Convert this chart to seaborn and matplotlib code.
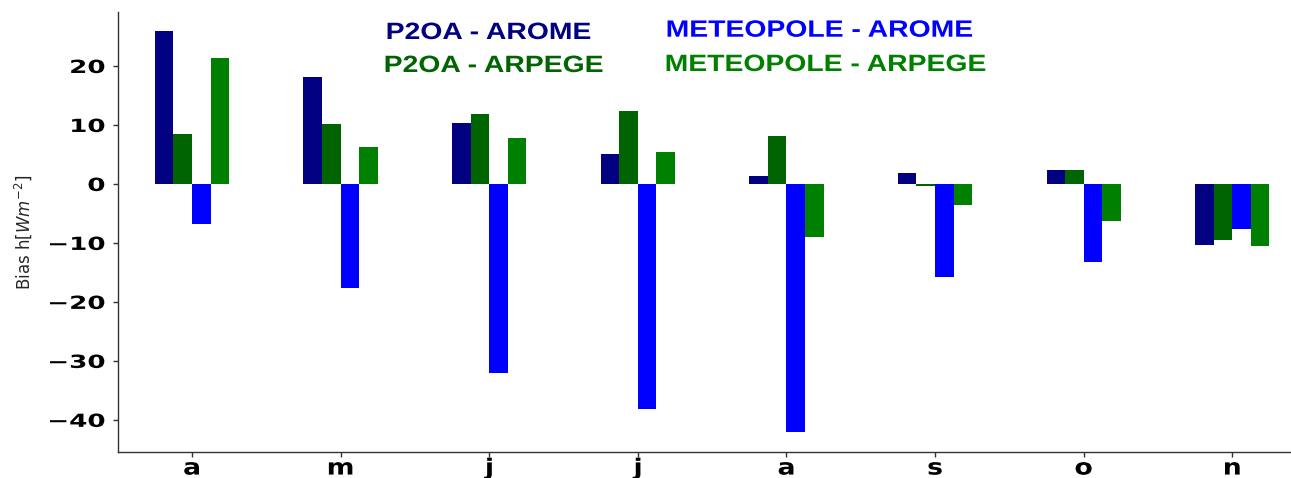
import matplotlib
matplotlib.use("Agg")
import matplotlib.pyplot as plt
import pandas as pd
import seaborn as sns
from matplotlib.patheffects import AbstractPathEffect
from matplotlib.transforms import Affine2D

# Monthly bias of the sensible heat flux, per station / model pair
months = ["a", "m", "j", "j", "a", "s", "o", "n"]
month_index = list(range(len(months)))
series = ["P2OA - AROME", "P2OA - ARPEGE", "METEOPOLE - AROME", "METEOPOLE - ARPEGE"]
p2oa_arome = [26.0, 18.2, 10.4, 5.0, 1.3, 1.8, 2.4, -10.3]
p2oa_arpege = [8.5, 10.2, 11.8, 12.3, 8.2, -0.3, 2.4, -9.5]
meteopole_arome = [-6.8, -17.7, -32.1, -38.1, -42.1, -15.8, -13.3, -7.6]
meteopole_arpege = [21.4, 6.2, 7.8, 5.4, -9.0, -3.6, -6.3, -10.5]
colors = ["#000080", "#006400", "#0000ff", "#008000"]
yticks = [-40, -30, -20, -10, 0, 10, 20]


class Widen(AbstractPathEffect):
    """Draw text glyphs horizontally widened around a fixed anchor of the ink."""

    def __init__(self, factor, anchor=0.0):
        super().__init__()
        self.factor = factor
        self.anchor = anchor

    def draw_path(self, renderer, gc, tpath, affine, rgbFace=None):
        ext = tpath.get_extents()
        x0 = ext.x0 + self.anchor * ext.width
        pre = Affine2D().translate(-x0, 0).scale(self.factor, 1).translate(x0, 0)
        renderer.draw_path(gc, tpath, pre + affine, rgbFace)


df = pd.concat(
    [pd.DataFrame({"month": month_index, "bias": vals, "pair": name})
     for name, vals in zip(series, [p2oa_arome, p2oa_arpege, meteopole_arome, meteopole_arpege])],
    ignore_index=True,
)

sns.set_style("ticks")
W, H = 1291, 478
fig = plt.figure(figsize=(W / 100, H / 100), dpi=100)
ax = fig.add_axes([117.7 / W, 25.7 / H, 1188.9 / W, 440 / H])

sns.barplot(data=df, x="month", y="bias", hue="pair", hue_order=series,
            palette=colors, saturation=1, width=0.5, errorbar=None,
            linewidth=0, legend=False, ax=ax)

ax.set_xlim(-0.5, len(months) - 0.5)
ax.set_ylim(-45.5, 29.1)
ax.set_yticks(yticks)
ax.set_yticklabels([f"{v}".replace("-", "\u2212") for v in yticks],
                   fontfamily="DejaVu Sans", fontweight="bold", fontsize=13)
ax.set_xticks(month_index)
ax.set_xticklabels(months, fontfamily="DejaVu Sans", fontweight="bold", fontsize=16)
ax.set_xlabel("")
ax.set_ylabel(r"Bias h$[W m^{-2}]$", fontsize=12, fontfamily="DejaVu Sans")
ax.yaxis.set_label_coords((34 - 117.7) / 1188.9, 0.5)

ax.tick_params(axis="y", length=3.5, width=1, pad=5.6, colors="#333333", labelcolor="black")
ax.tick_params(axis="x", length=3.5, width=1, pad=1.0, colors="#333333", labelcolor="black")
for lab in ax.get_yticklabels():
    lab.set_path_effects([Widen(1.45, anchor=1.0)])
for lab in ax.get_xticklabels():
    lab.set_path_effects([Widen(1.2, anchor=0.5)])

sns.despine(ax=ax)
for side in ("left", "bottom"):
    ax.spines[side].set_color("#333333")
    ax.spines[side].set_linewidth(1.0)

# Coloured series names used as the key
key_pos = [(386, 39), (384, 72), (666, 36.7), (665, 71)]
for name, col, (px, py) in zip(series, colors, key_pos):
    fig.text(px / W, 1 - py / H, name, color=col, fontfamily="Liberation Sans",
             fontweight="bold", fontsize=17, ha="left", va="baseline",
             path_effects=[Widen(1.2, anchor=0.0)])

fig.savefig("out.png", dpi=100)
